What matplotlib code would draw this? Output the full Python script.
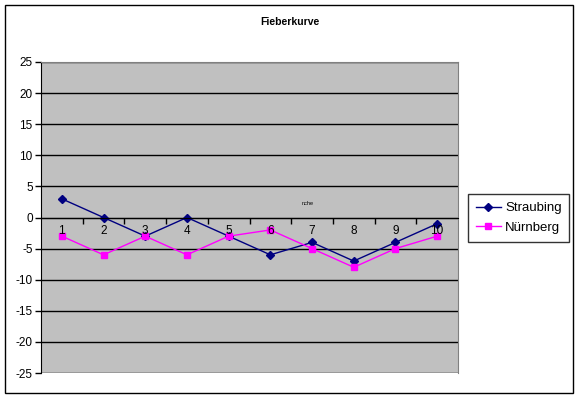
import matplotlib
matplotlib.use("Agg")
import matplotlib.pyplot as plt
from matplotlib.patches import Rectangle

plt.rcParams["font.family"] = ["Liberation Sans", "DejaVu Sans"]
plt.rcParams["axes.unicode_minus"] = False

wochen = [1, 2, 3, 4, 5, 6, 7, 8, 9, 10]
straubing = [3, 0, -3, 0, -3, -6, -4, -7, -4, -1]
nuernberg = [-3, -6, -3, -6, -3, -2, -5, -8, -5, -3]

fig = plt.figure(figsize=(5.79, 3.98), dpi=100)
fig.patches.append(Rectangle((5 / 579, 1 - 393 / 398), 568 / 579, 388 / 398,
                             transform=fig.transFigure, fill=False,
                             edgecolor="black", linewidth=1))

ax = fig.add_axes([41 / 579, 1 - 373 / 398, 417 / 579, 311 / 398])
ax.set_facecolor("#C0C0C0")

ax.plot(wochen, straubing, color="#000080", marker="D", markersize=4,
        linewidth=1, label="Straubing")
ax.plot(wochen, nuernberg, color="#FF00FF", marker="s", markersize=5,
        linewidth=1, label="Nürnberg")

ax.set_xlim(0.5, 10.5)
ax.set_ylim(-25, 25)
ax.set_yticks(range(-25, 30, 5))
ax.yaxis.grid(True, color="black", linewidth=1)
ax.set_axisbelow(True)
ax.tick_params(axis="y", labelsize=8.5, length=4, width=1, direction="out", pad=2)

# category axis sits at y=0, labels just below it
ax.spines["bottom"].set_position(("data", 0))
ax.spines["bottom"].set_color("black")
ax.spines["left"].set_color("black")
ax.spines["top"].set_color("#808080")
ax.spines["right"].set_color("#808080")
ax.set_xticks([k + 0.5 for k in wochen[:-1]])
ax.set_xticklabels([])
ax.tick_params(axis="x", length=4, width=1, direction="out")
for w in wochen:
    ax.text(w, -1.2, str(w), ha="center", va="top", fontsize=8.5)

ax.text(6.9, 2.2, "nche", ha="center", va="center", fontsize=4)

fig.text(290 / 579, 1 - 22 / 398, "Fieberkurve", ha="center", va="center",
         fontsize=7.5, fontweight="bold")

leg = ax.legend(loc="center left", bbox_to_anchor=(468 / 579, 1 - 218 / 398),
                bbox_transform=fig.transFigure, frameon=True, fancybox=False,
                fontsize=9.5, handlelength=1.9, borderpad=0.6, labelspacing=0.55,
                handletextpad=0.3, borderaxespad=0)
leg.get_frame().set_edgecolor("black")
leg.get_frame().set_linewidth(1)

fig.savefig("out.png", dpi=100)
